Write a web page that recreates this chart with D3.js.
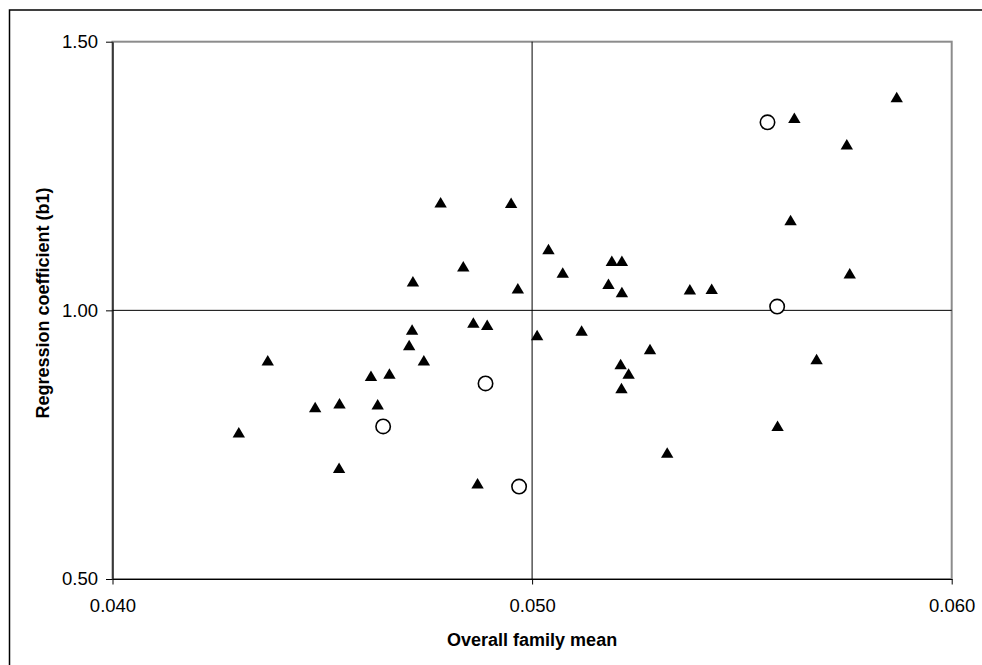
<!DOCTYPE html>
<html>
<head>
<meta charset="utf-8">
<script src="https://cdn.jsdelivr.net/npm/d3@7"></script>
<style>
  body { margin: 0; background: #fff; }
  svg { display: block; font-family: "Liberation Sans", Arial, sans-serif; }
</style>
</head>
<body>
<div class="canvas"></div>
<script>
// Family means (x) and regression coefficients (y), triangles
const triX = [0.04301, 0.04370, 0.04483, 0.04541, 0.04540, 0.04616, 0.04632, 0.04660, 0.04707, 0.04714,
              0.04716, 0.04742, 0.04782, 0.04836, 0.04860, 0.04870, 0.04893, 0.04950, 0.04966, 0.05012,
              0.05039, 0.05073, 0.05118, 0.05869, 0.05625, 0.05750, 0.05616, 0.05190, 0.05214, 0.05757,
              0.05182, 0.05214, 0.05376, 0.05428, 0.05281, 0.05678, 0.05211, 0.05230, 0.05213, 0.05585,
              0.05322];
const triY = [0.773, 0.907, 0.820, 0.827, 0.707, 0.878, 0.825, 0.882, 0.935, 0.964,
              1.054, 0.907, 1.201, 1.082, 0.977, 0.678, 0.973, 1.200, 1.041, 0.954,
              1.114, 1.070, 0.962, 1.397, 1.358, 1.309, 1.168, 1.092, 1.092, 1.069,
              1.049, 1.034, 1.039, 1.040, 0.928, 0.909, 0.900, 0.882, 0.855, 0.785,
              0.735];

// open circles
const circX = [0.05561, 0.05584, 0.04889, 0.04645, 0.04969];
const circY = [1.350, 1.007, 0.864, 0.784, 0.672];

const xTicks = [0.040, 0.050, 0.060];
const yTicks = [0.50, 1.00, 1.50];

const width = 982, height = 665;
const margin = {top: 41.7, right: 30.3, bottom: 86, left: 112.5};

const svg = d3.select(".canvas")
    .append("svg")
    .attr("width", width)
    .attr("height", height);

// outer chart border (runs off the right and bottom edges)
svg.append("rect")
    .attr("x", 9.5)
    .attr("y", 10)
    .attr("width", 1000)
    .attr("height", 700)
    .attr("fill", "none")
    .attr("stroke", "#000")
    .attr("stroke-width", 1.5);

const x = d3.scaleLinear().domain([0.040, 0.060]).range([margin.left, width - margin.right]);
const y = d3.scaleLinear().domain([0.50, 1.50]).range([height - margin.bottom, margin.top]);

// plot area border
svg.append("rect")
    .attr("x", x(0.040))
    .attr("y", y(1.50))
    .attr("width", x(0.060) - x(0.040))
    .attr("height", y(0.50) - y(1.50))
    .attr("fill", "none")
    .attr("stroke", "#8c8c8c")
    .attr("stroke-width", 2);

// crossing lines through the middle
svg.append("line")
    .attr("x1", x(0.050)).attr("x2", x(0.050))
    .attr("y1", y(1.50)).attr("y2", y(0.50))
    .attr("stroke", "#000").attr("stroke-width", 1);
svg.append("line")
    .attr("x1", x(0.040)).attr("x2", x(0.060))
    .attr("y1", y(1.00)).attr("y2", y(1.00))
    .attr("stroke", "#000").attr("stroke-width", 1);

// axes
const xAxis = svg.append("g")
    .attr("transform", `translate(0,${y(0.50)})`)
    .call(d3.axisBottom(x).tickValues(xTicks).tickFormat(d3.format(".3f")).tickSize(5.5).tickPadding(14).tickSizeOuter(0));
const yAxis = svg.append("g")
    .attr("transform", `translate(${x(0.040)},0)`)
    .call(d3.axisLeft(y).tickValues(yTicks).tickFormat(d3.format(".2f")).tickSize(6.5).tickPadding(8).tickSizeOuter(0));

[xAxis, yAxis].forEach(g => {
    g.select(".domain").attr("stroke", "#000").attr("stroke-width", 1.2);
    g.selectAll(".tick line").attr("stroke", "#000");
    g.selectAll(".tick text")
        .attr("fill", "#000")
        .style("font-size", "18.5px")
        .style("font-family", '"Liberation Sans", Arial, sans-serif');
});

// axis titles
svg.append("text")
    .attr("x", x(0.050))
    .attr("y", 640)
    .attr("dy", "0.35em")
    .attr("text-anchor", "middle")
    .style("font-size", "18px")
    .style("font-weight", "bold")
    .text("Overall family mean");

svg.append("text")
    .attr("transform", `translate(43,303) rotate(-90)`)
    .attr("dy", "0.35em")
    .attr("text-anchor", "middle")
    .style("font-size", "18px")
    .style("font-weight", "bold")
    .text("Regression coefficient (b1)");

// markers
const triangles = triX.map((d, i) => ({x: d, y: triY[i]}));
const circles = circX.map((d, i) => ({x: d, y: circY[i]}));

svg.append("g")
    .selectAll("path")
    .data(triangles)
    .enter().append("path")
    .attr("d", "M0,-5.4L6.2,5.1L-6.2,5.1Z")
    .attr("transform", d => `translate(${x(d.x)},${y(d.y)})`)
    .attr("fill", "#000");

svg.append("g")
    .selectAll("circle")
    .data(circles)
    .enter().append("circle")
    .attr("cx", d => x(d.x))
    .attr("cy", d => y(d.y))
    .attr("r", 7.2)
    .attr("fill", "#fff")
    .attr("stroke", "#000")
    .attr("stroke-width", 1.6);
</script>
</body>
</html>
